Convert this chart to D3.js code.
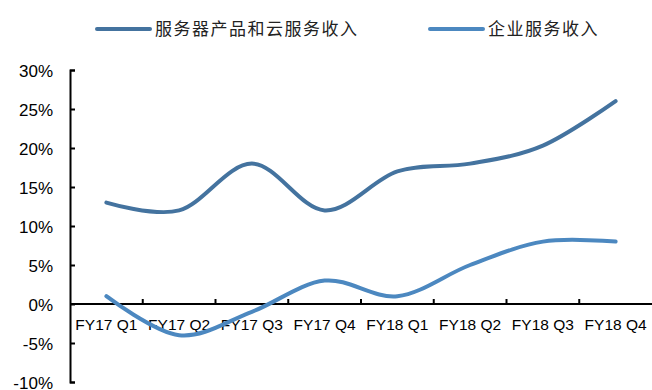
<!DOCTYPE html>
<html>
<head>
<meta charset="utf-8">
<script src="https://cdn.jsdelivr.net/npm/d3@7"></script>
<style>
  body { margin: 0; background: #fff; }
  svg { display: block; }
</style>
</head>
<body>
<div id="chart"></div>
<script>
// quarters and the two revenue growth series (%)
const quarters = ["FY17 Q1", "FY17 Q2", "FY17 Q3", "FY17 Q4", "FY18 Q1", "FY18 Q2", "FY18 Q3", "FY18 Q4"];
const serverCloud = [13, 12, 18, 12, 17, 18, 20.3, 26];
const enterprise = [1, -4, -1, 3, 1, 5, 8, 8];
const seriesNames = ["服务器产品和云服务收入", "企业服务收入"];
const yTicks = [-10, -5, 0, 5, 10, 15, 20, 25, 30];

const colors = ["#44739f", "#4c88c0"];
const width = 652, height = 390;

const svg = d3.select("#chart").append("svg")
    .attr("width", width)
    .attr("height", height);

const x = d3.scaleBand()
    .domain(quarters)
    .range([70, 652])
    .padding(0);

const y = d3.scaleLinear()
    .domain([-10, 30])
    .range([382, 70]);

// y axis, ticks point into the plot
const yAxis = svg.append("g")
    .attr("transform", `translate(${x.range()[0]},0)`)
    .call(d3.axisRight(y).tickValues(yTicks).tickSize(5).tickFormat(""));
yAxis.select(".domain").attr("stroke", "#000").attr("stroke-width", 2);
yAxis.selectAll(".tick line").attr("stroke", "#000").attr("stroke-width", 2);

svg.append("g")
    .selectAll("text")
    .data(yTicks)
    .join("text")
    .attr("x", 53)
    .attr("y", d => y(d) + 1)
    .attr("dy", "0.36em")
    .attr("text-anchor", "end")
    .style("font", "17px 'Liberation Sans', Arial, sans-serif")
    .attr("fill", "#000")
    .text(d => d + "%");

// x axis along the zero line, ticks at category boundaries pointing up
const bounds = quarters.slice(1).map(q => x(q));
const xAxis = svg.append("g");
xAxis.append("line")
    .attr("x1", x.range()[0]).attr("x2", x.range()[1])
    .attr("y1", y(0)).attr("y2", y(0))
    .attr("stroke", "#000").attr("stroke-width", 2);
xAxis.selectAll(".tk")
    .data(bounds)
    .join("line")
    .attr("class", "tk")
    .attr("x1", d => d).attr("x2", d => d)
    .attr("y1", y(0)).attr("y2", y(0) - 5)
    .attr("stroke", "#000").attr("stroke-width", 2);
xAxis.selectAll("text")
    .data(quarters)
    .join("text")
    .attr("x", d => x(d) + x.bandwidth() / 2)
    .attr("y", y(0) + 20)
    .attr("dy", "0.36em")
    .attr("text-anchor", "middle")
    .style("font", "15.5px 'Liberation Sans', Arial, sans-serif")
    .attr("fill", "#000")
    .text(d => d);

// smoothed lines, like Excel's smooth line option
const line = d3.line()
    .x((d, i) => x(quarters[i]) + x.bandwidth() / 2)
    .y(d => y(d))
    .curve(d3.curveCardinal.tension(0));

[serverCloud, enterprise].forEach((s, i) => {
    svg.append("path")
        .datum(s)
        .attr("fill", "none")
        .attr("stroke", colors[i])
        .attr("stroke-width", 4)
        .attr("stroke-linecap", "round")
        .attr("d", line);
});

// legend
const legendX = [97, 430];
const legend = svg.append("g")
    .selectAll("g")
    .data(seriesNames)
    .join("g")
    .attr("transform", (d, i) => `translate(${legendX[i]},29)`);
legend.append("line")
    .attr("x1", 0).attr("x2", 53)
    .attr("stroke", (d, i) => colors[i])
    .attr("stroke-width", 4)
    .attr("stroke-linecap", "round");
legend.append("text")
    .attr("x", 58)
    .attr("dy", "0.35em")
    .style("font", "17px 'Noto Sans CJK SC', sans-serif")
    .style("letter-spacing", "1.5px")
    .attr("fill", "#222")
    .text(d => d);
</script>
</body>
</html>
